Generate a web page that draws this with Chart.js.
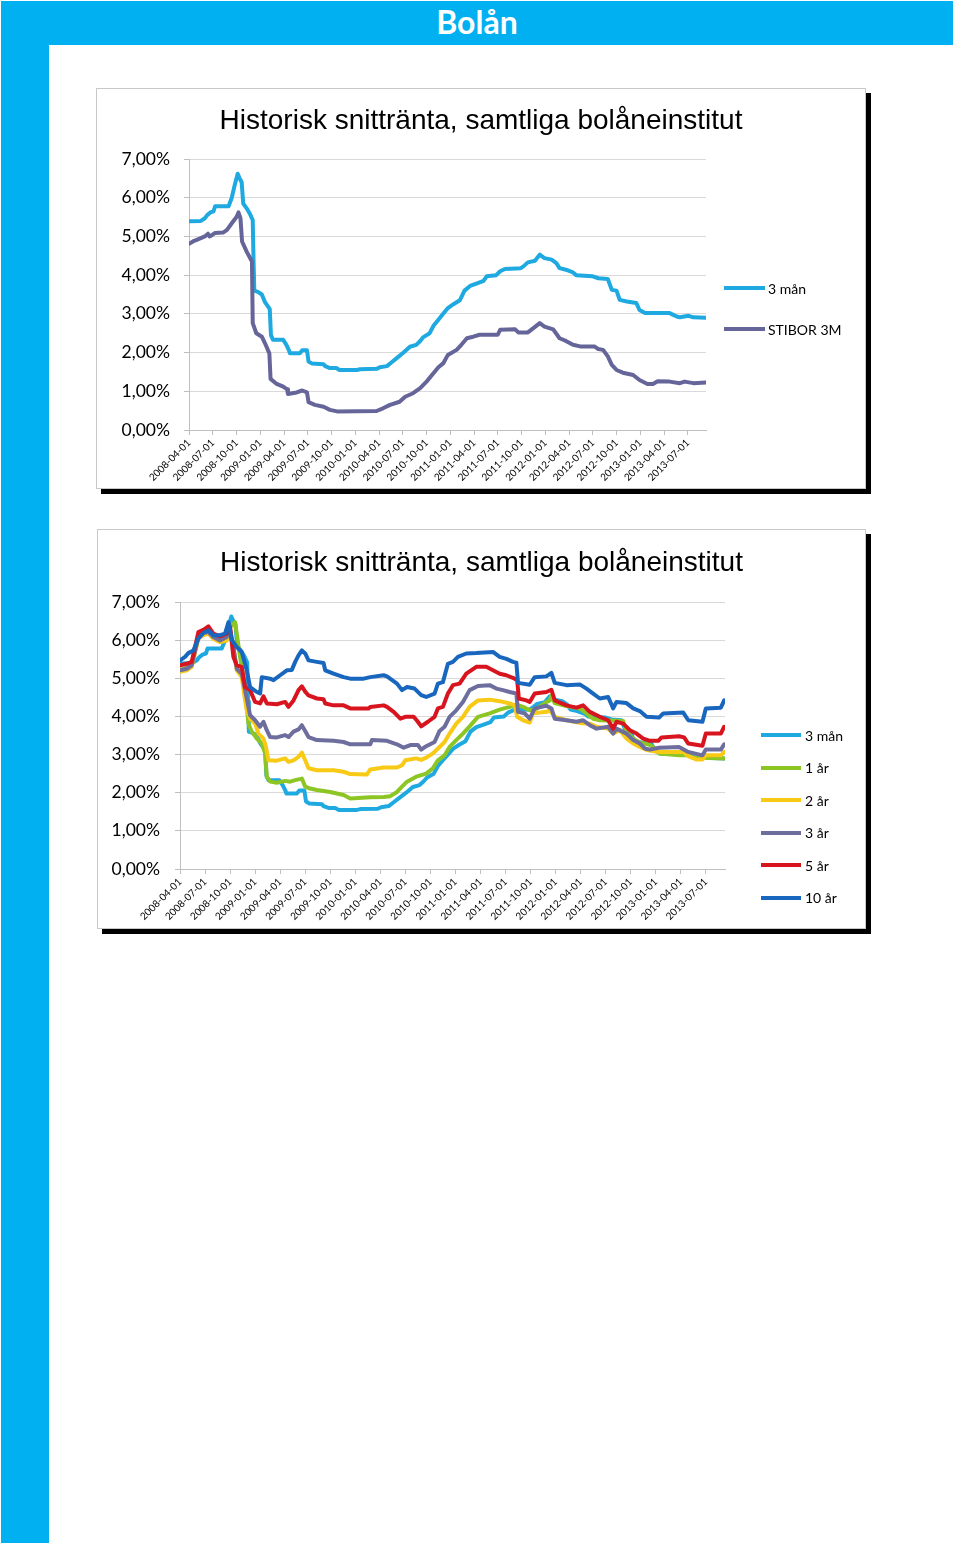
<!DOCTYPE html>
<html><head><meta charset="utf-8">
<script src="https://cdn.jsdelivr.net/npm/chart.js@4.4.1/dist/chart.umd.min.js"></script>
<style>
body{margin:0;background:#fff;width:960px;height:1551px;position:relative;overflow:hidden;font-family:Lato,sans-serif}
#banner{position:absolute;left:1px;top:1px;width:952px;height:44px;background:#00b0f0;color:#fff;font:bold 32px Lato,sans-serif;text-align:center;line-height:42px}
#side{position:absolute;left:1px;top:45px;width:48px;height:1498px;background:#00b0f0}
.box{position:absolute;background:#fff;border:1px solid #c8c8c8;box-shadow:5px 5px 0 #000}
.box canvas{position:absolute;left:0;top:0}
.title{position:absolute;left:0;width:100%;text-align:center;font:28px "Liberation Sans",Arial,sans-serif;line-height:32px;color:#000;white-space:nowrap}
.leg{position:absolute;height:16px;display:flex;align-items:center;font:14px Lato,sans-serif;color:#000;white-space:nowrap}
.leg i{display:block;height:4px;margin-right:3px}
</style></head>
<body>
<div id="banner">Bolån</div>
<div id="side"></div>

<div class="box" style="left:96px;top:88px;width:768px;height:399px">
  <canvas id="c1" width="768" height="399"></canvas>
  <div class="title" style="top:15px">Historisk snittränta, samtliga bolåneinstitut</div>
</div>
<div class="box" style="left:97px;top:529px;width:767px;height:398px">
  <canvas id="c2" width="767" height="398"></canvas>
  <div class="title" style="top:16px">Historisk snittränta, samtliga bolåneinstitut</div>
</div>
<div id="legend1"></div>
<div id="legend2"></div>

<script>
// x = months since 2008-04-01
const tickMonths = [0,3,6,9,12,15,18,21,24,27,30,33,36,39,42,45,48,51,54,57,60,63];
const tickLabels = ['2008-04-01','2008-07-01','2008-10-01','2009-01-01','2009-04-01','2009-07-01','2009-10-01','2010-01-01','2010-04-01','2010-07-01','2010-10-01','2011-01-01','2011-04-01','2011-07-01','2011-10-01','2012-01-01','2012-04-01','2012-07-01','2012-10-01','2013-01-01','2013-04-01','2013-07-01'];
const yTicks = [0,1,2,3,4,5,6,7];

const man3 = [[0,5.39],[1.5,5.4],[2.0,5.47],[2.3,5.55],[2.7,5.62],[3.1,5.65],[3.3,5.78],[5.0,5.78],[5.4,6.0],[5.8,6.35],[6.15,6.62],[6.4,6.5],[6.65,6.4],[6.85,5.85],[7.3,5.72],[7.7,5.58],[8.05,5.42],[8.15,4.4],[8.25,3.6],[8.7,3.57],[9.2,3.5],[9.6,3.3],[10.2,3.12],[10.35,2.45],[10.6,2.33],[11.9,2.33],[12.3,2.2],[12.6,2.07],[12.75,1.98],[14.0,1.98],[14.3,2.06],[14.9,2.06],[15.1,1.77],[15.5,1.72],[17.0,1.7],[17.2,1.65],[17.8,1.6],[18.6,1.6],[19.0,1.55],[21.2,1.55],[21.6,1.57],[23.7,1.58],[24.1,1.62],[25.0,1.65],[25.6,1.75],[26.2,1.85],[27.1,2.0],[27.9,2.15],[28.7,2.2],[29.2,2.3],[29.6,2.4],[30.4,2.5],[30.9,2.7],[31.5,2.85],[32.1,3.0],[32.7,3.15],[33.4,3.25],[34.2,3.35],[34.8,3.6],[35.5,3.72],[36.3,3.78],[37.2,3.85],[37.6,3.97],[38.8,4.0],[39.3,4.1],[39.9,4.16],[41.9,4.18],[42.2,4.22],[42.8,4.33],[43.7,4.37],[44.3,4.53],[44.9,4.44],[45.8,4.4],[46.4,4.31],[46.8,4.18],[47.6,4.14],[48.5,4.07],[48.9,4.0],[51.0,3.97],[51.7,3.92],[52.9,3.9],[53.4,3.62],[54.0,3.6],[54.4,3.36],[55.3,3.32],[56.5,3.28],[56.9,3.1],[57.6,3.02],[60.7,3.02],[61.6,2.93],[62.0,2.91],[63.1,2.95],[63.7,2.91],[65.3,2.9]];

const stibor3m = [[0,4.81],[0.5,4.87],[1.2,4.93],[2.0,5.0],[2.4,5.07],[2.6,5.0],[2.8,5.02],[3.3,5.09],[4.3,5.1],[4.8,5.17],[5.4,5.34],[6.0,5.5],[6.25,5.62],[6.5,5.47],[6.7,4.87],[7.3,4.6],[7.7,4.45],[7.95,4.35],[8.05,2.76],[8.5,2.5],[9.2,2.41],[9.6,2.24],[10.15,1.98],[10.3,1.32],[11.0,1.2],[11.9,1.12],[12.4,1.05],[12.5,0.93],[13.6,0.97],[14.3,1.02],[14.9,0.97],[15.1,0.72],[15.9,0.65],[17.0,0.6],[17.8,0.52],[18.7,0.48],[23.7,0.49],[24.5,0.56],[25.4,0.65],[26.6,0.73],[27.3,0.86],[28.3,0.95],[29.2,1.08],[30.0,1.25],[30.9,1.47],[31.5,1.62],[32.1,1.72],[32.7,1.94],[33.8,2.07],[34.4,2.2],[35.1,2.37],[35.9,2.41],[36.7,2.46],[39.0,2.46],[39.3,2.59],[41.2,2.6],[41.6,2.52],[42.8,2.52],[43.5,2.63],[44.3,2.76],[44.9,2.67],[46.0,2.6],[46.8,2.37],[47.6,2.3],[48.5,2.2],[49.4,2.16],[51.2,2.16],[51.7,2.09],[52.3,2.07],[52.9,1.9],[53.4,1.68],[54.0,1.55],[54.8,1.48],[56.1,1.42],[56.9,1.29],[57.9,1.19],[58.6,1.19],[59.2,1.26],[60.7,1.25],[62.0,1.21],[62.6,1.25],[63.7,1.21],[65.3,1.23]];

const ar1 = [[0,5.21],[1.4,5.34],[2.2,6.08],[3.4,6.19],[4.0,6.05],[4.8,5.95],[5.6,6.01],[6.0,6.34],[6.6,6.47],[6.8,6.17],[7.2,5.56],[7.8,4.69],[8.2,3.81],[8.6,3.6],[9.2,3.42],[9.8,3.29],[10.2,3.03],[10.4,2.42],[10.8,2.29],[11.6,2.26],[12.6,2.31],[13.2,2.29],[13.8,2.33],[14.6,2.37],[15.0,2.16],[15.6,2.11],[16.4,2.07],[18.0,2.02],[19.6,1.94],[20.4,1.85],[22.8,1.88],[24.4,1.89],[25.2,1.91],[26.0,2.02],[26.6,2.16],[27.2,2.29],[28.3,2.42],[28.9,2.46],[29.5,2.5],[30.3,2.64],[30.9,2.85],[31.7,2.98],[32.3,3.2],[33.1,3.38],[33.9,3.55],[34.7,3.74],[35.7,3.99],[37.1,4.08],[38.3,4.18],[39.5,4.25],[40.3,4.31],[41.1,4.25],[41.9,4.16],[42.7,4.2],[43.7,4.35],[44.3,4.42],[44.5,4.55],[44.9,4.35],[46.3,4.27],[47.9,4.21],[48.7,4.08],[49.5,3.94],[50.3,3.9],[53.1,3.88],[53.5,3.6],[54.3,3.42],[55.1,3.31],[56.1,3.27],[56.7,3.2],[57.4,3.03],[59.8,2.98],[60.9,2.98],[61.4,2.92],[65.3,2.9]];

const ar2 = [[0,5.17],[0.8,5.21],[1.4,5.3],[2.2,6.04],[2.8,6.13],[3.4,6.17],[4.0,6.04],[4.8,5.95],[5.6,5.99],[5.9,6.3],[6.4,5.82],[6.8,5.21],[7.4,5.03],[7.8,4.42],[8.0,4.16],[8.4,3.94],[9.0,3.81],[9.4,3.55],[10.0,3.42],[10.3,3.2],[10.6,2.85],[11.6,2.84],[12.6,2.9],[13.0,2.81],[13.6,2.85],[14.2,2.94],[14.6,3.05],[15.0,2.85],[15.4,2.64],[16.4,2.59],[18.4,2.59],[19.6,2.55],[20.4,2.49],[22.4,2.48],[22.8,2.61],[24.4,2.66],[26.0,2.66],[26.6,2.72],[27.0,2.85],[28.3,2.9],[28.9,2.86],[29.5,2.92],[30.3,3.03],[31.1,3.2],[31.7,3.33],[32.3,3.55],[33.1,3.81],[33.9,3.99],[34.7,4.25],[35.7,4.42],[37.1,4.44],[38.3,4.4],[39.5,4.34],[40.1,4.29],[40.4,3.99],[41.1,3.9],[41.9,3.84],[42.3,4.08],[43.9,4.12],[44.3,4.16],[44.9,3.99],[46.3,3.9],[47.9,3.83],[49.1,3.81],[49.9,3.73],[51.3,3.68],[51.9,3.55],[52.7,3.64],[53.5,3.42],[54.3,3.29],[55.1,3.2],[55.9,3.12],[57.4,3.07],[60.3,3.07],[60.9,2.96],[61.9,2.87],[62.6,2.87],[63.0,2.98],[64.8,2.98],[65.2,3.07]];

const ar3 = [[0,5.21],[0.8,5.25],[1.4,5.34],[2.2,6.08],[2.8,6.19],[3.4,6.21],[4.0,6.08],[4.8,5.99],[5.6,6.08],[5.9,6.43],[6.4,5.82],[6.8,5.25],[7.4,5.12],[7.8,4.69],[8.2,4.25],[8.4,4.03],[9.0,3.9],[9.6,3.73],[10.0,3.86],[10.4,3.64],[10.8,3.46],[11.6,3.45],[12.6,3.51],[13.0,3.46],[13.6,3.6],[14.2,3.66],[14.6,3.77],[15.0,3.62],[15.4,3.46],[16.4,3.38],[18.4,3.36],[19.6,3.33],[20.4,3.27],[22.8,3.27],[23.0,3.38],[24.8,3.36],[26.0,3.27],[26.8,3.18],[27.6,3.25],[28.5,3.25],[28.9,3.13],[29.5,3.22],[30.5,3.33],[31.1,3.62],[31.7,3.73],[32.3,3.99],[33.1,4.16],[33.9,4.38],[34.7,4.69],[35.7,4.8],[37.1,4.82],[37.9,4.73],[38.7,4.69],[39.5,4.64],[40.3,4.6],[40.5,4.12],[41.3,4.08],[41.9,3.94],[42.5,4.21],[43.9,4.28],[44.5,4.21],[44.9,3.94],[46.3,3.9],[47.5,3.86],[48.3,3.9],[49.1,3.77],[49.9,3.68],[51.3,3.73],[51.9,3.55],[52.3,3.68],[53.5,3.55],[54.3,3.38],[55.1,3.29],[55.7,3.16],[56.3,3.13],[57.4,3.18],[59.8,3.2],[60.9,3.07],[62.6,2.98],[63.0,3.13],[64.8,3.13],[65.2,3.27]];

const ar5 = [[0,5.34],[0.8,5.38],[1.4,5.43],[2.2,6.21],[2.8,6.27],[3.4,6.36],[4.0,6.17],[4.8,6.1],[5.6,6.17],[6.0,6.34],[6.4,5.56],[6.8,5.34],[7.4,5.3],[7.8,4.77],[8.4,4.69],[9.0,4.38],[9.6,4.34],[10.0,4.53],[10.4,4.34],[11.6,4.32],[12.6,4.38],[13.0,4.25],[13.6,4.42],[14.2,4.69],[14.6,4.79],[15.0,4.65],[15.4,4.55],[16.4,4.47],[17.2,4.45],[17.4,4.34],[18.4,4.29],[19.6,4.29],[20.4,4.21],[22.6,4.21],[22.8,4.25],[24.4,4.29],[24.8,4.25],[25.6,4.12],[26.4,3.94],[27.0,3.99],[28.0,3.99],[28.5,3.86],[28.9,3.74],[29.7,3.86],[30.5,3.99],[30.9,4.21],[31.5,4.25],[32.1,4.6],[32.7,4.82],[33.5,4.86],[34.3,5.12],[35.5,5.3],[36.7,5.3],[37.5,5.21],[38.3,5.12],[39.1,5.08],[40.1,4.99],[40.4,4.95],[40.6,4.47],[41.5,4.42],[41.9,4.38],[42.5,4.6],[43.9,4.64],[44.5,4.7],[44.9,4.42],[46.3,4.29],[47.5,4.23],[48.3,4.29],[49.1,4.12],[50.3,3.99],[51.3,3.9],[51.9,3.68],[52.3,3.86],[53.1,3.81],[53.9,3.64],[54.7,3.55],[55.5,3.42],[56.3,3.36],[57.3,3.36],[57.7,3.45],[59.8,3.48],[60.4,3.45],[60.9,3.29],[62.6,3.23],[63.0,3.55],[64.8,3.55],[65.2,3.73]];

const ar10 = [[0,5.47],[0.6,5.56],[1.0,5.66],[1.6,5.73],[2.2,6.04],[2.8,6.19],[3.4,6.26],[4.0,6.13],[4.8,6.13],[5.4,6.17],[5.8,6.47],[6.2,6.0],[6.8,5.82],[7.4,5.69],[8.0,5.21],[8.4,4.77],[9.2,4.64],[9.6,4.6],[9.8,5.03],[10.8,4.99],[11.2,4.95],[12.0,5.08],[12.8,5.21],[13.4,5.22],[13.8,5.43],[14.2,5.6],[14.6,5.73],[15.0,5.65],[15.4,5.47],[16.4,5.43],[17.2,5.4],[17.4,5.21],[18.4,5.12],[19.6,5.03],[20.4,4.99],[22.0,4.99],[22.8,5.03],[24.4,5.08],[24.8,5.05],[26.0,4.86],[26.6,4.69],[27.2,4.77],[28.1,4.73],[28.9,4.56],[29.5,4.51],[30.5,4.6],[30.9,4.86],[31.5,4.9],[32.1,5.38],[32.7,5.43],[33.3,5.56],[34.3,5.65],[35.5,5.66],[37.5,5.69],[38.3,5.56],[39.1,5.51],[39.9,5.43],[40.3,5.41],[40.5,4.88],[41.9,4.83],[42.5,5.03],[43.9,5.05],[44.5,5.14],[44.9,4.88],[46.3,4.82],[47.9,4.84],[48.7,4.73],[49.5,4.6],[50.3,4.47],[51.3,4.51],[51.9,4.21],[52.3,4.38],[53.5,4.35],[54.3,4.21],[55.1,4.14],[55.9,3.99],[57.4,3.97],[57.9,4.08],[60.3,4.1],[60.9,3.9],[62.6,3.86],[63.0,4.21],[64.8,4.23],[65.2,4.42]];

const series1 = [
  {label:'3 mån', data:man3, color:'#1ea9e1'},
  {label:'STIBOR 3M', data:stibor3m, color:'#65659a'}
];
const series2 = [
  {label:'3 mån', data:man3, color:'#1ea9e1'},
  {label:'1 år', data:ar1, color:'#8dc624'},
  {label:'2 år', data:ar2, color:'#f8c915'},
  {label:'3 år', data:ar3, color:'#6e6e9e'},
  {label:'5 år', data:ar5, color:'#d8141e'},
  {label:'10 år', data:ar10, color:'#1866be'}
];

const pct = v => v.toFixed(2).replace('.', ',') + '%';

function makeChart(id, series, geo) {
  const n = series.length;
  return new Chart(document.getElementById(id), {
    type: 'line',
    data: {
      datasets: series.map((s, i) => ({
        label: s.label,
        data: s.data.map(([x, y]) => ({x, y})),
        borderColor: s.color,
        backgroundColor: s.color,
        borderWidth: 4,
        pointRadius: 0,
        tension: 0,
        borderJoinStyle: 'round',
        borderCapStyle: 'round',
        order: n - i
      }))
    },
    options: {
      responsive: false,
      animation: false,
      events: [],
      layout: {padding: {top: geo.top, right: geo.right, bottom: 0, left: 0}},
      plugins: {legend: {display: false}, title: {display: false}, tooltip: {enabled: false}},
      scales: {
        x: {
          type: 'linear', min: 0, max: 65.3,
          afterBuildTicks: sc => { sc.ticks = tickMonths.map(v => ({value: v})); },
          afterFit: sc => { sc.height = geo.xh; },
          grid: {drawOnChartArea: false, drawTicks: true, tickLength: 5, color: '#bfbfbf'},
          border: {display: true, color: '#bfbfbf'},
          ticks: {
            autoSkip: false, minRotation: 45, maxRotation: 45, padding: 2,
            font: {family: 'Lato', size: 10}, color: '#000',
            callback: v => tickLabels[tickMonths.indexOf(v)]
          }
        },
        y: {
          min: 0, max: 7,
          afterBuildTicks: sc => { sc.ticks = yTicks.map(v => ({value: v})); },
          afterFit: sc => { sc.width = geo.yw; },
          grid: {color: '#d9d9d9', tickLength: 5, tickColor: '#bfbfbf'},
          border: {display: true, color: '#bfbfbf'},
          ticks: {padding: geo.ypad, font: {family: 'Lato', size: 17.5}, color: '#000', callback: v => pct(v)}
        }
      }
    }
  });
}

makeChart('c1', series1, {top: 70, right: 159, xh: 58, yw: 92, ypad: 14});
makeChart('c2', series2, {top: 72, right: 140, xh: 59, yw: 82, ypad: 15});

function legend(elId, series, left, tops, lineW, gap) {
  const el = document.getElementById(elId);
  series.forEach((s, i) => {
    const d = document.createElement('div');
    d.className = 'leg';
    d.style.left = left + 'px';
    d.style.top = (tops[i] - 8) + 'px';
    const ln = document.createElement('i');
    ln.style.width = lineW + 'px';
    ln.style.background = s.color;
    ln.style.marginRight = gap + 'px';
    d.appendChild(ln);
    d.appendChild(document.createTextNode(s.label));
    el.appendChild(d);
  });
}
legend('legend1', series1, 724, [288, 329], 41, 3);
legend('legend2', series2, 761, [735, 767.5, 800, 832.5, 865, 897.5], 40, 4);
</script>
</body></html>
